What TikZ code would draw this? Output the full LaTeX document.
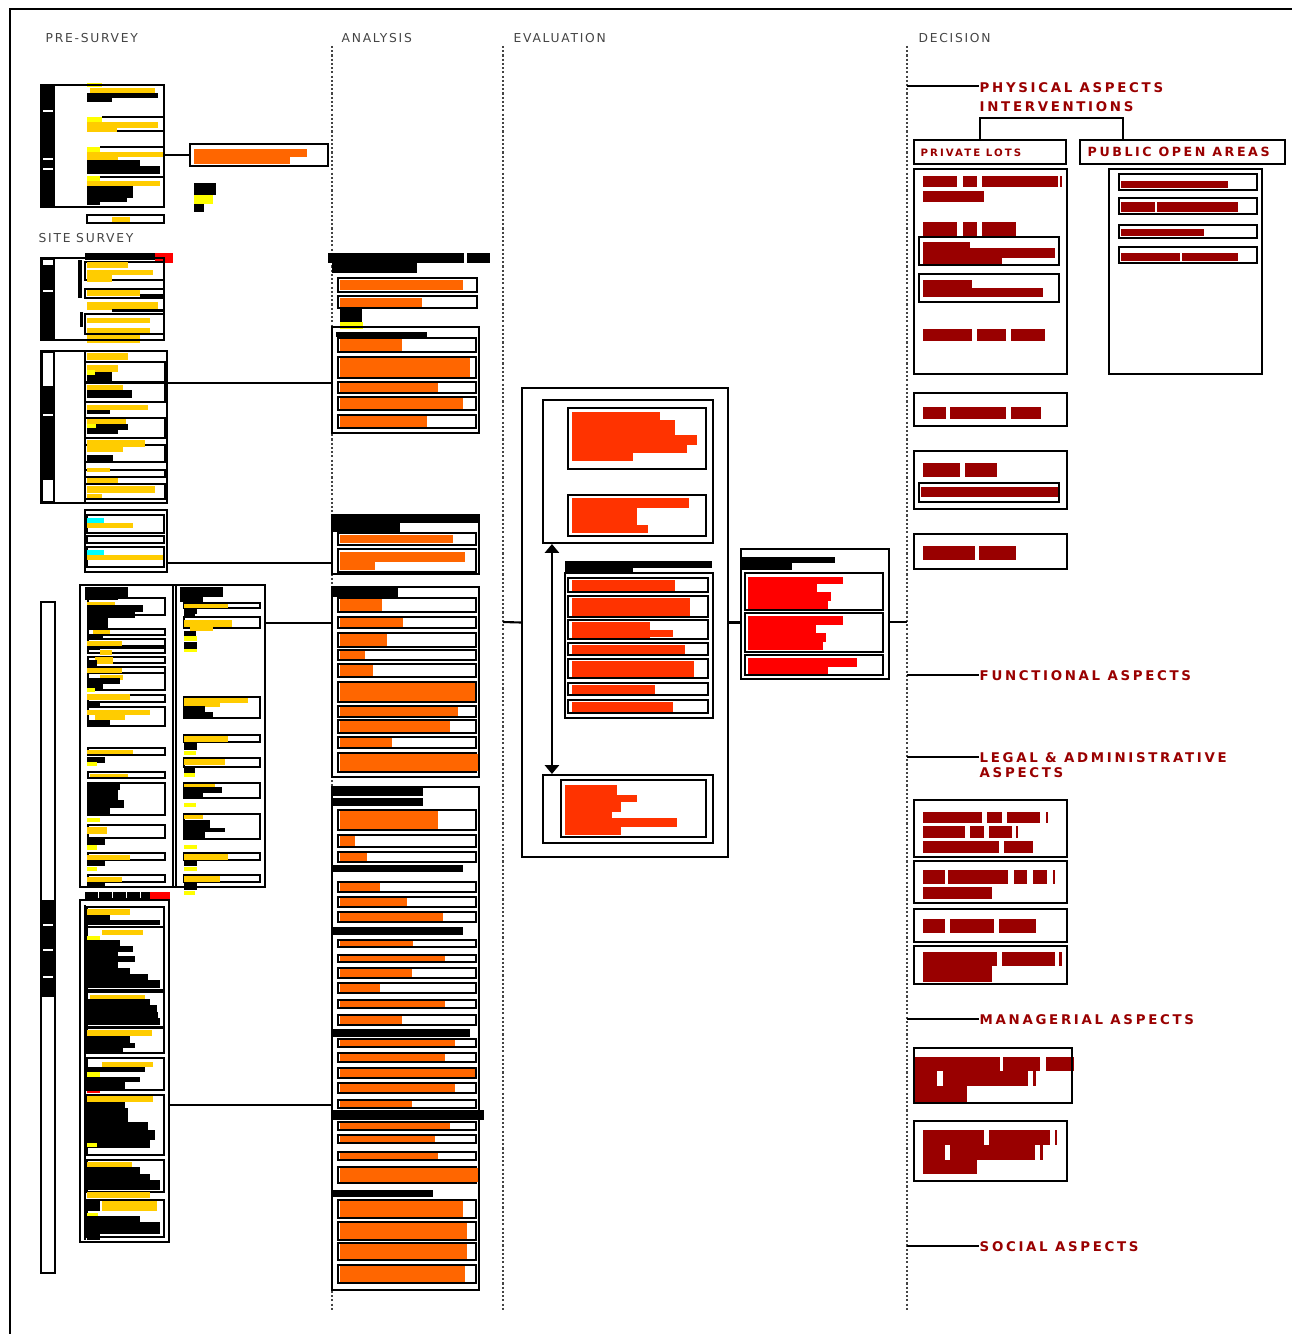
\documentclass[tikz,border=0pt]{standalone}
\usepackage{fontspec}
\usetikzlibrary{fit,arrows.meta}
\newfontfamily\headfont[LetterSpace=14]{DejaVu Sans}
\newfontfamily\aspectfont[LetterSpace=20]{DejaVu Sans}
\definecolor{gold}{HTML}{FFCC00}
\definecolor{lemon}{HTML}{FFFF00}
\definecolor{tangerine}{HTML}{FF6600}
\definecolor{vermilion}{HTML}{FF3300}
\definecolor{signal}{HTML}{FF0000}
\definecolor{maroon}{HTML}{990000}
\definecolor{aqua}{HTML}{00FFFF}
\definecolor{headgray}{HTML}{444444}
\newcommand\fb[5]{\fill[#5] (#1,#2) rectangle (#3,#4);}
\newcommand\cb[4]{\draw[cell] (#1,#2) rectangle (#3,#4);}
\tikzset{
  box/.style={draw, line width=0.6pt, inner sep=0pt},
  cell/.style={line width=0.45pt},
  link/.style={line width=0.6pt},
  guide/.style={draw=headgray, line width=0.6pt, dash pattern=on 0.6pt off 0.6pt},
  stage/.style={anchor=west, inner sep=0pt, text=headgray, font=\headfont\fontsize{3.5}{4}\selectfont},
  aspect/.style={anchor=north west, inner sep=0pt, text=maroon, align=left, font=\aspectfont\bfseries\fontsize{3.8}{4.3}\selectfont},
  tag/.style={anchor=west, inner sep=0pt, text=maroon, font=\aspectfont\bfseries\fontsize{3.6}{4}\selectfont},
}
\begin{document}
\begin{tikzpicture}[x=0.01cm, y=-0.01cm]
\useasboundingbox (0,0) rectangle (1292,1334);
\draw[line width=0.8pt] (10,1334) -- (10,9) -- (1292,9);

\node[stage] (tpre) at (45,38) {PRE-SURVEY};
\node[stage] (tana) at (341,38) {ANALYSIS};
\node[stage] (teva) at (513,38) {EVALUATION};
\node[stage] (tdec) at (918,38) {DECISION};
\node[stage] (tsite) at (38,238) {SITE SURVEY};

\draw[guide] (332,46) -- (332,1310);
\draw[guide] (503,46) -- (503,1310);
\draw[guide] (907,46) -- (907,1310);

% pre-survey
\fill (41,85) rectangle (55,207);
\foreach \y in {110,158,168} {\fill[white] (43,\y) rectangle (53,\y+2);}
\fb{87}{83}{102}{87}{lemon}
\fb{90}{88}{155}{93}{gold}
\fb{87}{93}{158}{98}{black}
\fb{87}{98}{112}{102}{black}
\fb{87}{117}{102}{122}{lemon}
\fb{87}{122}{158}{128}{gold}
\fb{87}{128}{117}{132}{gold}
\fb{87}{147}{100}{152}{lemon}
\fb{87}{152}{164}{157}{gold}
\fb{87}{157}{118}{160}{gold}
\fb{87}{160}{140}{166}{black}
\fb{87}{166}{160}{174}{black}
\fb{87}{176}{100}{181}{lemon}
\fb{87}{181}{160}{186}{gold}
\fb{87}{186}{133}{198}{black}
\fb{87}{198}{127}{202}{black}
\fb{87}{202}{100}{205}{black}
\foreach \y/\a in {117/102,131/117,147/100,177/100} {\draw[cell] (\a,\y) -- (164,\y);}
\node[box, fit={(41,85) (164,207)}] (pre) {};
\cb{87}{215}{164}{223}
\fb{112}{217}{130}{222}{gold}
\fb{194}{149}{307}{157}{tangerine}
\fb{194}{157}{290}{164}{tangerine}
\node[box, fit={(190,144) (328,166)}] (prebrief) {};
\draw[link] (prebrief.west) -- (prebrief.west -| pre.east);
\fb{194}{183}{216}{195}{black}
\fb{194}{195}{213}{204}{lemon}
\fb{194}{204}{204}{212}{black}

% site survey
\fb{85}{253}{163}{260}{black}
\fb{155}{253}{173}{263}{signal}
\fill (41,258) rectangle (55,340);
\fb{43}{260}{53}{265}{white}
\fb{43}{290}{53}{292}{white}
\fill (78,260) rectangle (82,298);
\fill (80,312) rectangle (83,327);
\cb{85}{262}{164}{280}
\cb{85}{289}{164}{298}
\cb{85}{314}{164}{334}
\foreach \a/\b/\w in {262/268/128, 270/275/153, 275/282/112, 290/296/140, 302/310/158, 318/323/150, 328/333/150, 335/343/140}
  {\fb{87}{\a}{\w}{\b}{gold}}
\fb{140}{294}{164}{297}{black}
\fb{112}{309}{164}{312}{black}
\node[box, fit={(41,258) (164,340)}] (site) {};

\fill (41,351) rectangle (55,503);
\fb{43}{353}{53}{386}{white}
\fb{43}{480}{53}{501}{white}
\fb{43}{414}{53}{416}{white}
\draw[cell] (85,351) -- (85,503);
\foreach \a/\b in {362/382, 383/402, 418/438, 445/462, 470/477, 484/499} {\cb{85}{\a}{165}{\b}}
\foreach \a/\b/\w in {353/360/128, 365/372/118, 385/390/123, 405/410/148, 419/424/126, 440/447/145, 447/452/123, 468/472/110, 478/483/118, 486/493/155, 494/498/102}
  {\fb{87}{\a}{\w}{\b}{gold}}
\foreach \a/\b/\w in {372/382/112, 390/398/132, 410/414/110, 424/430/128, 430/434/118, 455/462/113}
  {\fb{87}{\a}{\w}{\b}{black}}
\fb{87}{370}{95}{375}{lemon}
\fb{87}{424}{96}{428}{lemon}
\node[box, fit={(41,351) (167,503)}] (sitegrid) {};

\cb{87}{515}{164}{533}
\cb{87}{536}{164}{543}
\cb{87}{547}{164}{567}
\fb{87}{518}{104}{523}{aqua}
\fb{87}{523}{133}{528}{gold}
\fb{87}{550}{104}{555}{aqua}
\fb{87}{555}{163}{560}{gold}
\node[box, fit={(85,510) (167,572)}] (sitewater) {};

\fb{85}{587}{128}{597}{black}
\fb{85}{597}{118}{600}{black}
\foreach \a/\b in {598/615, 629/635, 639/646, 648/653, 657/663, 667/673, 673/690, 695/702, 707/726, 748/755, 772/778, 783/815, 825/838, 853/860, 875/882}
  {\cb{88}{\a}{165}{\b}}
\foreach \x/\a/\w/\b in {87/602/115/605, 93/630/110/634, 87/641/122/646, 100/650/112/655, 95/657/113/664, 87/668/122/673, 100/675/123/680, 87/694/130/700, 87/710/150/715, 95/715/125/720, 87/750/133/754, 90/774/128/777, 87/787/108/790, 87/827/107/834, 87/855/130/860, 87/877/122/882}
  {\fb{\x}{\a}{\w}{\b}{gold}}
\foreach \a/\w/\b in {605/143/612, 612/135/618, 618/108/630, 636/103/640, 646/100/650, 660/97/668, 678/120/684, 684/103/690, 702/100/706, 720/110/726, 757/105/763, 783/120/790, 790/118/800, 800/124/808, 808/110/815, 838/105/845, 861/105/866, 883/105/887}
  {\fb{87}{\a}{\w}{\b}{black}}
\foreach \a/\w/\b in {688/95/692, 762/97/766, 818/100/822, 845/97/850, 867/97/871}
  {\fb{87}{\a}{\w}{\b}{lemon}}
\fb{180}{587}{223}{597}{black}
\fb{180}{597}{203}{602}{black}
\foreach \a/\b in {603/608, 617/628, 697/718, 735/742, 758/767, 783/798, 814/839, 853/860, 875/882}
  {\cb{184}{\a}{260}{\b}}
\foreach \x/\a/\w/\b in {184/604/228/608, 184/620/232/627, 190/627/213/631, 184/698/248/703, 184/703/220/707, 184/736/228/742, 184/759/225/765, 184/784/215/787, 184/815/203/819, 184/854/228/860, 184/876/220/882}
  {\fb{\x}{\a}{\w}{\b}{gold}}
\foreach \a/\w/\b in {609/197/614, 614/195/618, 631/196/636, 642/197/649, 706/205/712, 712/213/717, 743/197/750, 768/195/773, 787/222/793, 793/203/798, 820/210/828, 828/225/832, 832/205/838, 860/197/866, 882/197/890}
  {\fb{184}{\a}{\w}{\b}{black}}
\foreach \a/\w/\b in {636/197/641, 649/197/652, 751/196/755, 773/195/777, 803/196/807, 845/197/849, 867/197/871, 891/195/895}
  {\fb{184}{\a}{\w}{\b}{lemon}}
\draw[cell] (173,585) -- (173,887) (176,585) -- (176,887);
\node[box, fit={(80,585) (265,887)}] (sitecols) {};

\fb{85}{892}{150}{900}{black}
\foreach \x in {98,112,126,140} {\fill[white] (\x,892) rectangle (\x+1,898);}
\fb{150}{892}{170}{900}{signal}
\draw[cell] (85,905) -- (85,1240);
\foreach \a/\b in {907/927, 927/990, 992/1027, 1028/1053, 1058/1090, 1095/1155, 1160/1192, 1200/1237}
  {\cb{87}{\a}{164}{\b}}
\foreach \x/\a/\w/\b in {87/909/130/915, 102/930/143/935, 90/995/145/999, 87/1030/152/1036, 102/1062/153/1067, 87/1096/153/1102, 87/1162/132/1167, 87/1192/150/1198, 102/1201/157/1211}
  {\fb{\x}{\a}{\w}{\b}{gold}}
\foreach \a/\w/\b in {915/110/920, 920/160/925, 940/120/946, 946/133/952, 952/118/956, 956/135/962, 962/118/968, 968/130/974, 974/148/980, 980/160/988, 999/150/1005, 1005/157/1012, 1012/158/1018, 1018/160/1025, 1036/130/1043, 1043/135/1048, 1048/123/1052, 1067/145/1072, 1077/140/1082, 1082/125/1089, 1102/125/1108, 1108/128/1115, 1115/128/1122, 1122/148/1130, 1130/155/1140, 1140/150/1148, 1167/140/1174, 1174/150/1180, 1180/160/1190, 1201/100/1211, 1216/140/1222, 1222/160/1228, 1228/160/1234, 1234/100/1240}
  {\fb{87}{\a}{\w}{\b}{black}}
\foreach \a/\w/\b in {936/100/940, 1072/100/1077, 1143/97/1147, 1213/98/1216}
  {\fb{87}{\a}{\w}{\b}{lemon}}
\fb{87}{1091}{100}{1093}{signal}
\node[box, fit={(80,900) (169,1242)}] (sitebuild) {};

\draw[box] (41,602) rectangle (55,1273);
\fill (41,900) rectangle (55,997);
\foreach \y in {924,949,976} {\fill[white] (43,\y) rectangle (53,\y+2);}

% analysis
\fb{328}{253}{490}{263}{black}
\fb{332}{263}{417}{273}{black}
\fb{464}{253}{467}{263}{white}
\cb{338}{278}{477}{292}
\fb{340}{280}{463}{290}{tangerine}
\cb{338}{296}{477}{308}
\fb{340}{298}{422}{307}{tangerine}
\fb{340}{308}{362}{322}{black}
\fb{340}{322}{363}{329}{lemon}

\node[box, fit={(332,327) (479,433)}] (ana1) {};
\fb{336}{332}{427}{337}{black}
\foreach \a/\b/\w in {338/352/402, 357/378/470, 382/393/438, 397/410/463, 415/428/427} {
  \cb{338}{\a}{476}{\b}
  \fb{340}{\a+1}{\w}{\b-1}{tangerine}
}
\fb{340}{367}{407}{376}{tangerine}

\node[box, fit={(332,515) (479,574)}] (ana2) {};
\fb{332}{515}{479}{523}{black}
\fb{332}{523}{400}{532}{black}
\cb{338}{533}{476}{545}
\fb{340}{535}{453}{543}{tangerine}
\cb{338}{549}{476}{572}
\fb{340}{552}{465}{562}{tangerine}
\fb{340}{562}{375}{570}{tangerine}

\node[box, fit={(332,587) (479,777)}] (ana3) {};
\fb{332}{587}{398}{597}{black}
\foreach \a/\b/\w in {598/612/382, 617/628/403, 633/647/387, 650/660/365, 664/677/373, 682/702/475, 706/717/458, 720/733/450, 737/748/392, 753/772/478} {
  \cb{338}{\a}{476}{\b}
  \fb{340}{\a+1}{\w}{\b-1}{tangerine}
}
\fb{340}{692}{367}{700}{tangerine}
\fb{340}{763}{372}{771}{tangerine}

\node[box, fit={(332,787) (479,1290)}] (ana4) {};
\fb{332}{787}{423}{796}{black}
\fb{332}{798}{423}{806}{black}
\foreach \a/\b/\w in {810/830/438, 835/847/355, 852/862/367, 882/892/380, 897/907/407, 912/922/443, 940/947/413, 955/962/445, 968/978/412, 983/993/380, 1000/1008/445, 1015/1025/402, 1039/1047/455, 1053/1062/445, 1068/1078/475, 1083/1093/455, 1100/1108/412, 1122/1130/450, 1135/1143/435, 1152/1160/438, 1167/1183/478, 1200/1218/463, 1222/1240/467, 1243/1260/467, 1265/1283/465} {
  \cb{338}{\a}{476}{\b}
  \fb{340}{\a+1}{\w}{\b-1}{tangerine}
}
\fb{332}{865}{463}{872}{black}
\fb{332}{927}{463}{935}{black}
\fb{332}{1029}{470}{1037}{black}
\fb{332}{1110}{484}{1120}{black}
\fb{332}{1190}{433}{1197}{black}

\draw[link] (ana1.west |- 0,383) -- (sitegrid.east |- 0,383);
\draw[link] (ana2.west |- 0,563) -- (sitewater.east |- 0,563);
\draw[link] (ana3.west |- 0,623) -- (sitecols.east |- 0,623);
\draw[link] (ana4.west |- 0,1105) -- (sitebuild.east |- 0,1105);

% evaluation
\node[box, fit={(522,388) (728,857)}] (eval) {};
\node[box, fit={(543,400) (713,543)}] (evalopt) {};
\foreach \a/\w/\b in {412/660/420, 420/675/435, 435/697/445, 445/687/453, 453/633/461}
  {\fb{572}{\a}{\w}{\b}{vermilion}}
\node[box, fit={(568,408) (706,469)}] (evalcost) {};
\foreach \a/\w/\b in {498/689/508, 508/637/525, 525/648/533}
  {\fb{572}{\a}{\w}{\b}{vermilion}}
\node[box, fit={(568,495) (706,536)}] (evalrisk) {};
\fb{565}{561}{712}{568}{black}
\fb{565}{568}{633}{573}{black}
\node[box, fit={(565,573) (713,718)}] (evalcrit) {};
\foreach \a/\b/\w in {578/592/675, 596/617/690, 620/639/650, 643/655/685, 659/678/694, 683/695/655, 700/713/673} {
  \cb{568}{\a}{708}{\b}
  \fb{572}{\a+1.5}{\w}{\b-1.5}{vermilion}
}
\fb{572}{630}{673}{637}{vermilion}
\fb{572}{669}{660}{676}{vermilion}
\node[box, fit={(543,775) (713,843)}] (evalpick) {};
\foreach \a/\w/\b in {785/617/795, 795/637/802, 802/621/812, 812/612/818, 818/677/827, 827/621/835}
  {\fb{565}{\a}{\w}{\b}{vermilion}}
\node[box, fit={(561,780) (706,837)}] (evalpickin) {};
\draw[link, {Triangle[width=4pt,length=2.5pt]}-{Triangle[width=4pt,length=2.5pt]}] ([xshift=0.1cm]evalopt.south west) -- ([xshift=0.1cm]evalpick.north west);

\node[box, fit={(741,549) (889,679)}] (evalsum) {};
\fb{741}{557}{835}{563}{black}
\fb{741}{563}{792}{570}{black}
\cb{745}{573}{883}{610}
\cb{745}{613}{883}{652}
\cb{745}{655}{883}{675}
\foreach \a/\w/\b in {577/843/584, 584/817/592, 592/831/601, 601/828/609, 616/843/625, 625/816/633, 633/826/642, 642/823/650, 658/857/667, 667/828/674}
  {\fb{748}{\a}{\w}{\b}{signal}}

\coordinate (evalgate) at (503,622);
\coordinate (decgate) at (907,622);
\draw[link] (evalgate) -- (eval.west);
\draw[link] (eval.east) -- (eval.east -| evalsum.west);
\draw[link] (evalsum.east |- decgate) -- (decgate);

% decision
\coordinate (physgate) at (907,86);
\node[aspect] (phys) at (979,82) {PHYSICAL ASPECTS\\[1.2pt]INTERVENTIONS};
\draw[link] (physgate) -- (physgate -| phys.west);
\node[box, fit={(914,140) (1066,164)}] (privlots) {};
\node[tag, font=\aspectfont\bfseries\fontsize{2.9}{3}\selectfont] (privtext) at (920,153) {PRIVATE LOTS};
\node[box, fit={(1080,140) (1285,164)}] (publots) {};
\node[tag] (pubtext) at (1087,152) {PUBLIC OPEN AREAS};
\draw[link] (privlots.north -| 980,0) -- ++(0,-21) -| (publots.north -| 1123,0);

\node[box, fit={(914,169) (1067,374)}] (privplan) {};
\fb{923}{176}{957}{187}{maroon}
\fb{963}{176}{977}{187}{maroon}
\fb{982}{176}{1058}{187}{maroon}
\fb{1060}{176}{1062}{187}{maroon}
\fb{923}{191}{984}{202}{maroon}
\fb{923}{222}{957}{237}{maroon}
\fb{963}{222}{977}{237}{maroon}
\fb{982}{222}{1016}{237}{maroon}
\fb{923}{242}{970}{248}{maroon}
\fb{923}{248}{1055}{258}{maroon}
\fb{923}{258}{1002}{265}{maroon}
\cb{919}{237}{1059}{265}
\fb{923}{280}{972}{288}{maroon}
\fb{923}{288}{1043}{297}{maroon}
\cb{919}{274}{1059}{302}
\fb{923}{329}{972}{341}{maroon}
\fb{977}{329}{1006}{341}{maroon}
\fb{1011}{329}{1045}{341}{maroon}

\node[box, fit={(1109,169) (1262,374)}] (pubplan) {};
\foreach \a/\b/\c/\w in {174/181/190/1228, 198/202/214/1238, 225/229/238/1204, 247/253/263/1238} {
  \fb{1121}{\b}{\w}{\c-1.5}{maroon}
  \cb{1119}{\a}{1257}{\c}
}
\fb{1155}{202}{1157}{212}{white}
\fb{1180}{253}{1182}{262}{white}

\node[box, fit={(914,393) (1067,426)}] (privaccess) {};
\fb{923}{407}{946}{419}{maroon}
\fb{950}{407}{1006}{419}{maroon}
\fb{1011}{407}{1041}{419}{maroon}
\node[box, fit={(914,451) (1067,509)}] (privfront) {};
\fb{923}{463}{960}{477}{maroon}
\fb{965}{463}{997}{477}{maroon}
\fb{921}{487}{1059}{497}{maroon}
\cb{919}{483}{1059}{502}
\node[box, fit={(914,534) (1067,569)}] (privuse) {};
\fb{923}{546}{975}{560}{maroon}
\fb{979}{546}{1016}{560}{maroon}

\coordinate (funcgate) at (907,675);
\node[aspect] (func) at (979,670) {FUNCTIONAL ASPECTS};
\draw[link] (funcgate) -- (funcgate -| func.west);

\coordinate (legalgate) at (907,757);
\node[aspect] (legal) at (979,752) {LEGAL \& ADMINISTRATIVE\\ASPECTS};
\draw[link] (legalgate) -- (legalgate -| legal.west);
\node[box, fit={(914,800) (1067,857)}] (legal1) {};
\fb{923}{812}{982}{823}{maroon}
\fb{987}{812}{1002}{823}{maroon}
\fb{1007}{812}{1040}{823}{maroon}
\fb{1046}{812}{1048}{823}{maroon}
\fb{923}{826}{965}{838}{maroon}
\fb{970}{826}{984}{838}{maroon}
\fb{989}{826}{1012}{838}{maroon}
\fb{1016}{826}{1018}{838}{maroon}
\fb{923}{841}{999}{853}{maroon}
\fb{1004}{841}{1033}{853}{maroon}
\node[box, fit={(914,861) (1067,903)}] (legal2) {};
\fb{923}{870}{945}{884}{maroon}
\fb{948}{870}{1008}{884}{maroon}
\fb{1014}{870}{1027}{884}{maroon}
\fb{1033}{870}{1047}{884}{maroon}
\fb{1053}{870}{1055}{884}{maroon}
\fb{923}{887}{992}{899}{maroon}
\node[box, fit={(914,909) (1067,942)}] (legal3) {};
\fb{923}{919}{945}{933}{maroon}
\fb{950}{919}{994}{933}{maroon}
\fb{999}{919}{1036}{933}{maroon}
\node[box, fit={(914,946) (1067,984)}] (legal4) {};
\fb{923}{952}{997}{966}{maroon}
\fb{1002}{952}{1055}{966}{maroon}
\fb{1059}{952}{1062}{966}{maroon}
\fb{923}{966}{992}{982}{maroon}

\coordinate (mgmtgate) at (907,1019);
\node[aspect] (mgmt) at (979,1014) {MANAGERIAL ASPECTS};
\draw[link] (mgmtgate) -- (mgmtgate -| mgmt.west);
\fb{914}{1057}{1000}{1071}{maroon}
\fb{1003}{1057}{1040}{1071}{maroon}
\fb{1046}{1057}{1074}{1071}{maroon}
\fb{914}{1071}{1028}{1086}{maroon}
\fb{937}{1071}{943}{1086}{white}
\fb{1033}{1071}{1036}{1086}{maroon}
\fb{914}{1086}{967}{1102}{maroon}
\node[box, fit={(914,1048) (1072,1103)}] (mgmt1) {};
\fb{923}{1130}{984}{1145}{maroon}
\fb{989}{1130}{1050}{1145}{maroon}
\fb{984}{1130}{989}{1140}{white}
\fb{1055}{1130}{1057}{1145}{maroon}
\fb{923}{1145}{1035}{1160}{maroon}
\fb{945}{1145}{950}{1160}{white}
\fb{1040}{1145}{1043}{1160}{maroon}
\fb{923}{1160}{977}{1174}{maroon}
\node[box, fit={(914,1121) (1067,1181)}] (mgmt2) {};

\coordinate (socgate) at (907,1246);
\node[aspect] (soc) at (979,1241) {SOCIAL ASPECTS};
\draw[link] (socgate) -- (socgate -| soc.west);
\end{tikzpicture}
\end{document}
